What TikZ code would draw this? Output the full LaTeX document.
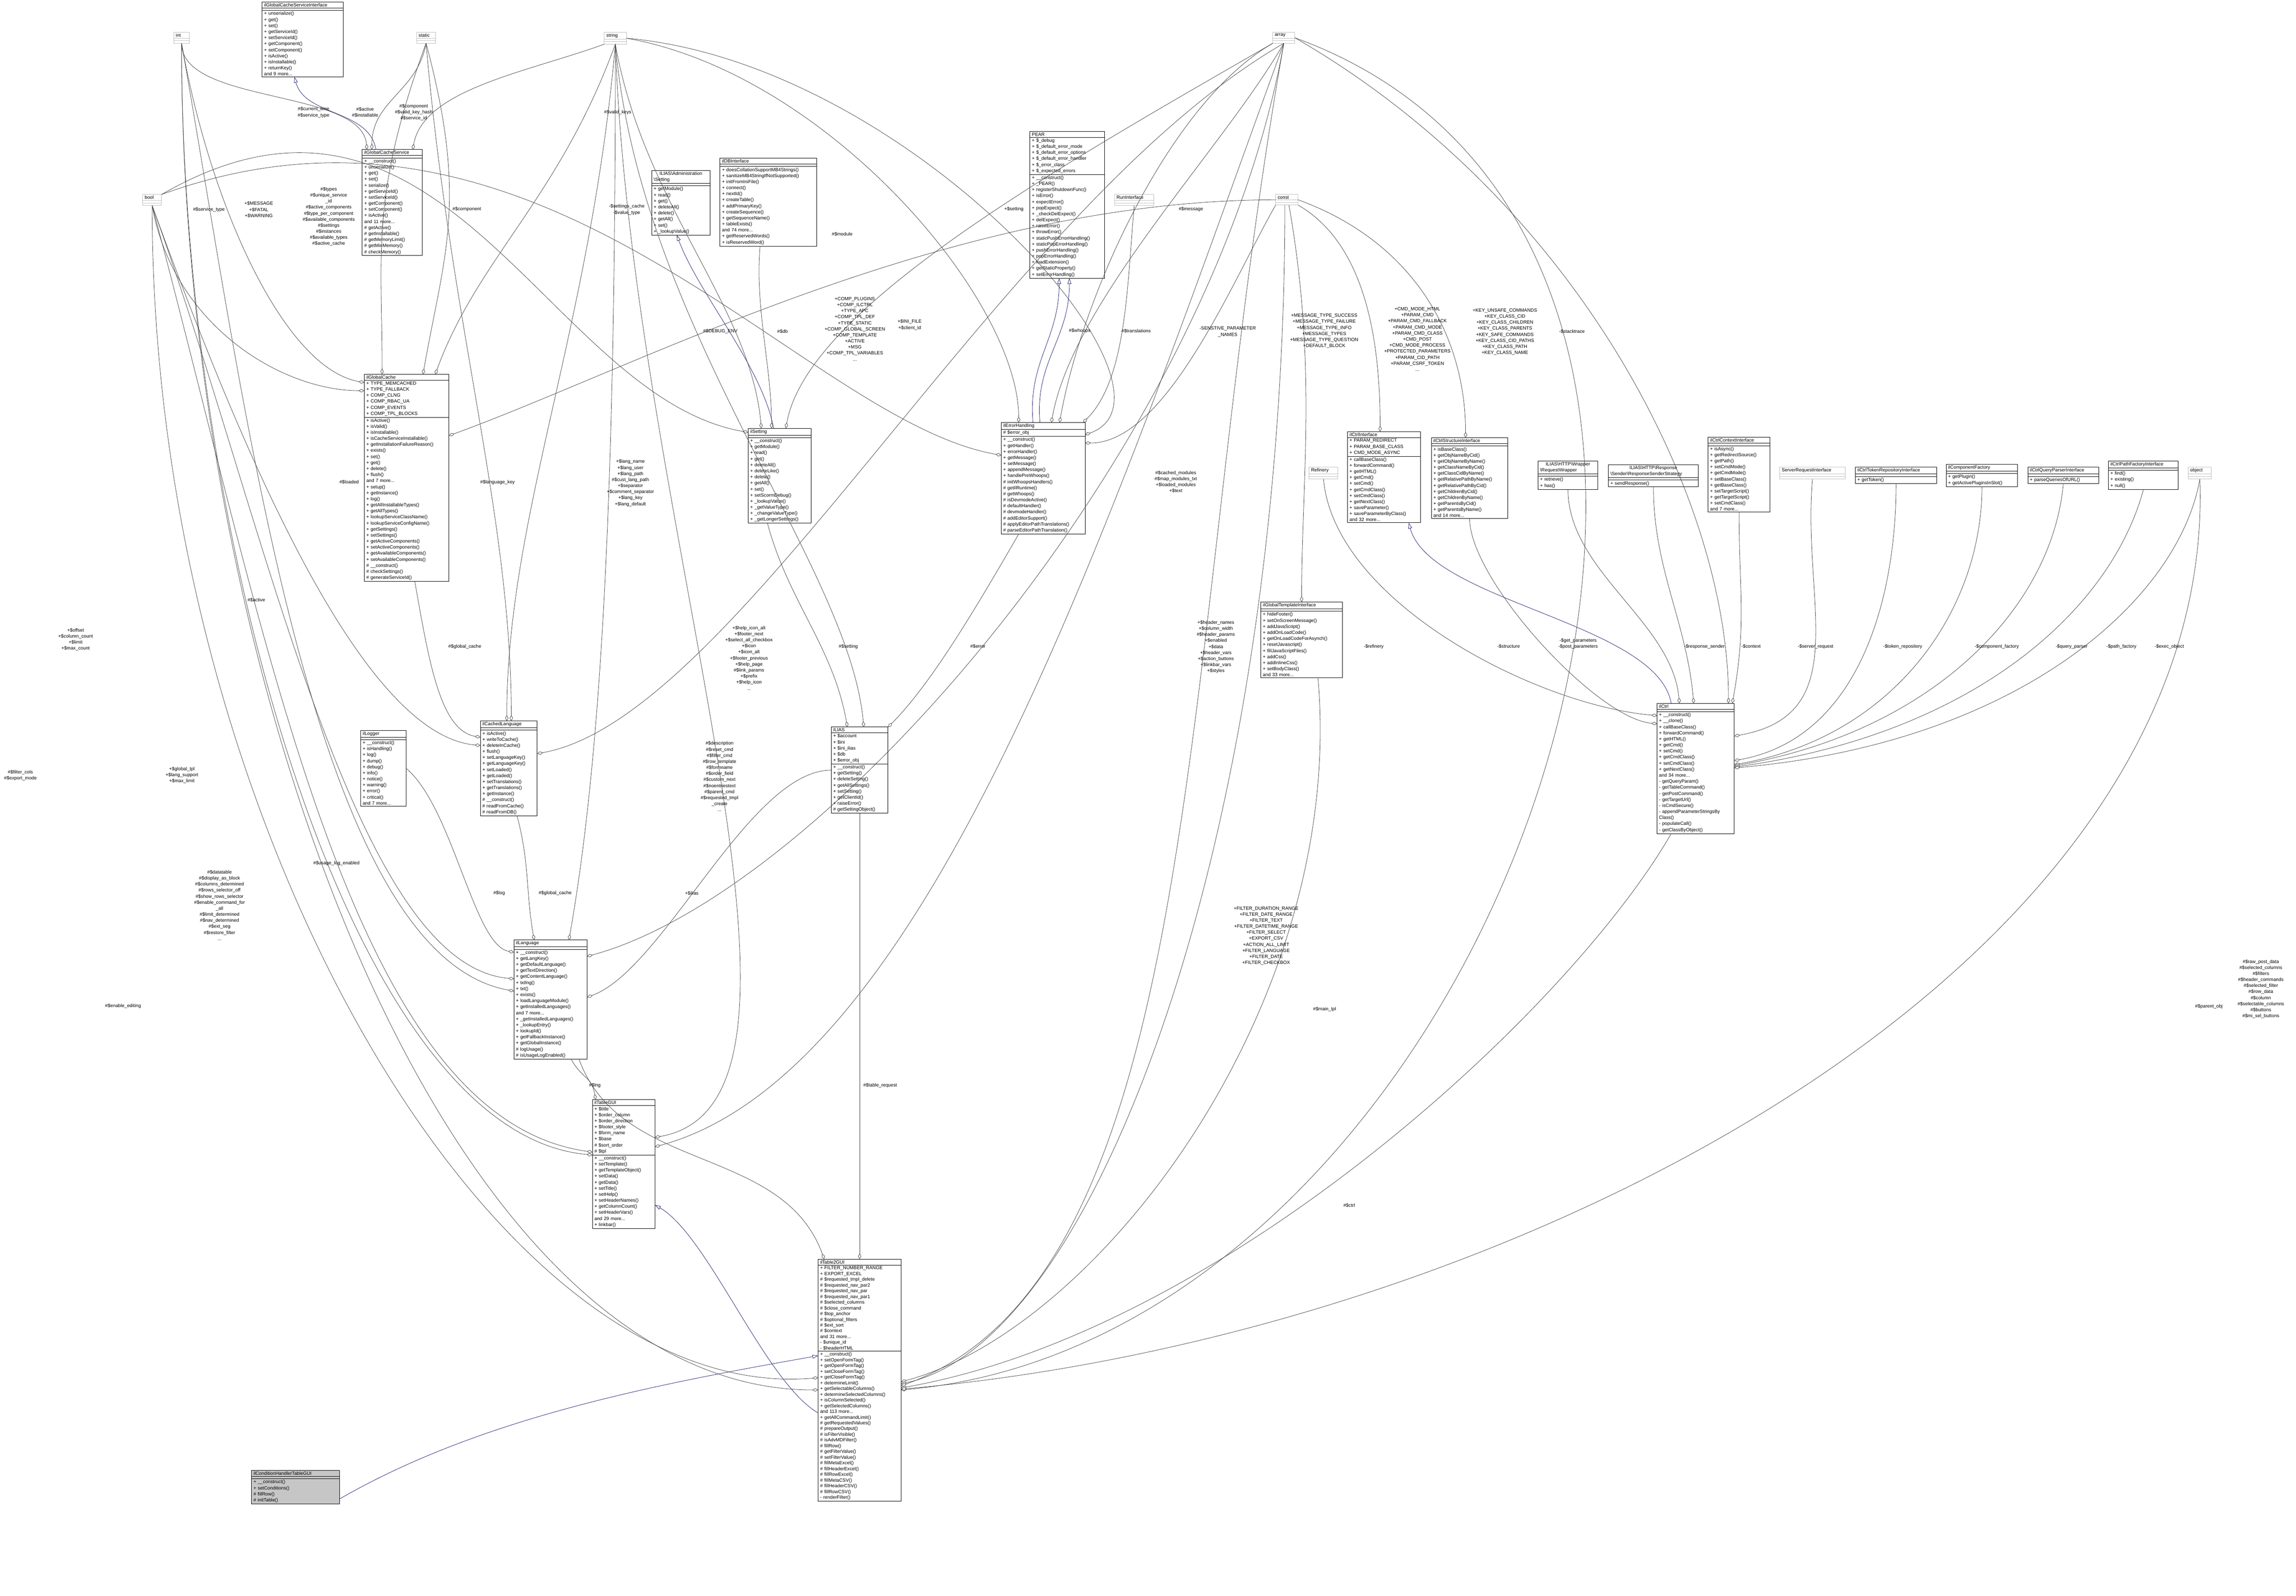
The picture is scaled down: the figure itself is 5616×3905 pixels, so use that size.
\documentclass[tikz,border=0pt]{standalone}
\usepackage{fontspec}
\setmainfont{Liberation Sans}
\usetikzlibrary{shapes.multipart,arrows.meta,calc}
\newfontfamily\clsfont{Liberation Sans}
\newcommand\clsf{\clsfont\fontsize{11.5}{14.8}\selectfont}
\definecolor{inh}{HTML}{191970}
\definecolor{edg}{HTML}{404040}
\catcode`\_=12
\tikzset{
 cls/.style={rectangle split, rectangle split parts=3, draw=black, line width=0.1pt, fill=white,
   text width=#1, inner xsep=5pt, inner ysep=3pt, anchor=north west, font=\clsf, align=left,
   rectangle split empty part height=18pt},
 ext/.style={cls=#1, draw=gray!50},
 agg/.style={draw=edg, line width=0.09pt, -{Diamond[open,length=1.4pt,width=0.8pt,fill=white]}},
 inhe/.style={draw=inh, line width=0.09pt, -{Triangle[open,length=1.4pt,width=0.9pt,fill=white]}},
 lab/.style={font=\clsf, align=center, inner sep=1pt}
}
\begin{document}
\begin{tikzpicture}[x=1pt,y=-1pt,scale=0.1,every node/.append style={transform shape}]
\useasboundingbox (0,0) rectangle (5616,3905);
\fill[white] (0,0) rectangle (5616,3905);
% ---------- external types
\node[ext=28] (int) at (425,79) {\centering int\nodepart{two}\nodepart{three}};
\node[ext=36] (static) at (1019,79) {\centering static\nodepart{two}\nodepart{three}};
\node[ext=44] (string) at (1478,79) {\centering string\nodepart{two}\nodepart{three}};
\node[ext=44] (array) at (3113,79) {\centering array\nodepart{two}\nodepart{three}};
\node[ext=36] (bool) at (349,476) {\centering bool\nodepart{two}\nodepart{three}};
\node[ext=45] (const) at (3120,476) {\centering const\nodepart{two}\nodepart{three}};
\node[ext=86] (runi) at (2726,476) {\centering RunInterface\nodepart{two}\nodepart{three}};
\node[ext=60] (refinery) at (3202,1143) {\centering Refinery\nodepart{two}\nodepart{three}};
\node[ext=150] (sri) at (4353,1143) {\centering ServerRequestInterface\nodepart{two}\nodepart{three}};
\node[ext=47] (obj) at (5352,1143) {\centering object\nodepart{two}\nodepart{three}};
% ---------- classes
\node[cls=188] (ifcsi) at (641,5) {\centering ilGlobalCacheServiceInterface\nodepart{two}\nodepart{three}+ unserialize()\\+ get()\\+ set()\\+ getServiceId()\\+ setServiceId()\\+ getComponent()\\+ setComponent()\\+ isActive()\\+ isInstallable()\\+ returnKey()\\and 9 more...};
\node[cls=137] (gcs) at (886,366) {\centering ilGlobalCacheService\nodepart{two}\nodepart{three}+ __construct()\\+ unserialize()\\+ get()\\+ set()\\+ serialize()\\+ getServiceId()\\+ setServiceId()\\+ getComponent()\\+ setComponent()\\+ isActive()\\and 11 more...\\\# getActive()\\\# getInstallable()\\\# getMemoryLimit()\\\# getMinMemory()\\\# checkMemory()};
\node[cls=133] (admset) at (1594,417) {\centering ILIAS\textbackslash Administration\\\textbackslash Setting\nodepart{two}\nodepart{three}+ getModule()\\+ read()\\+ get()\\+ deleteAll()\\+ delete()\\+ getAll()\\+ set()\\+ _lookupValue()};
\node[cls=226] (dbi) at (1761,387) {\centering ilDBInterface\nodepart{two}\nodepart{three}+ doesCollationSupportMB4Strings()\\+ sanitizeMB4StringIfNotSupported()\\+ initFromIniFile()\\+ connect()\\+ nextId()\\+ createTable()\\+ addPrimaryKey()\\+ createSequence()\\+ getSequenceName()\\+ tableExists()\\and 74 more...\\+ getReservedWords()\\+ isReservedWord()};
\node[cls=173] (pear) at (2519,322) {\centering PEAR\nodepart{two}+ \$_debug\\+ \$_default_error_mode\\+ \$_default_error_options\\+ \$_default_error_handler\\+ \$_error_class\\+ \$_expected_errors\nodepart{three}+ __construct()\\+ _PEAR()\\+ registerShutdownFunc()\\+ isError()\\+ expectError()\\+ popExpect()\\+ _checkDelExpect()\\+ delExpect()\\+ raiseError()\\+ throwError()\\+ staticPushErrorHandling()\\+ staticPopErrorHandling()\\+ pushErrorHandling()\\+ popErrorHandling()\\+ loadExtension()\\+ getStaticProperty()\\+ setErrorHandling()};
\node[cls=197] (gc) at (891,916) {\centering ilGlobalCache\nodepart{two}+ TYPE_MEMCACHED\\+ TYPE_FALLBACK\\+ COMP_CLNG\\+ COMP_RBAC_UA\\+ COMP_EVENTS\\+ COMP_TPL_BLOCKS\nodepart{three}+ isActive()\\+ isValid()\\+ isInstallable()\\+ isCacheServiceInstallable()\\+ getInstallationFailureReason()\\+ exists()\\+ set()\\+ get()\\+ delete()\\+ flush()\\and 7 more...\\+ setup()\\+ getInstance()\\+ log()\\+ getAllInstallableTypes()\\+ getAllTypes()\\+ lookupServiceClassName()\\+ lookupServiceConfigName()\\+ getSettings()\\+ setSettings()\\+ getActiveComponents()\\+ setActiveComponents()\\+ getAvailableComponents()\\+ setAvailableComponents()\\\# __construct()\\\# checkSettings()\\\# generateServiceId()};
\node[cls=144] (set) at (1830,1048) {\centering ilSetting\nodepart{two}\nodepart{three}+ __construct()\\+ getModule()\\+ read()\\+ get()\\+ deleteAll()\\+ deleteLike()\\+ delete()\\+ getAll()\\+ set()\\+ setScormDebug()\\+ _lookupValue()\\+ _getValueType()\\+ _changeValueType()\\+ _getLongerSettings()};
\node[cls=195] (eh) at (2449,1034) {\centering ilErrorHandling\nodepart{two}\# \$error_obj\nodepart{three}+ __construct()\\+ getHandler()\\+ errorHandler()\\+ getMessage()\\+ setMessage()\\+ appendMessage()\\+ handlePreWhoops()\\\# initWhoopsHandlers()\\\# getIlRuntime()\\\# getWhoops()\\\# isDevmodeActive()\\\# defaultHandler()\\\# devmodeHandler()\\\# addEditorSupport()\\\# applyEditorPathTranslations()\\\# parseEditorPathTranslation()};
\node[cls=129] (ilias) at (2033,1779) {\centering ILIAS\nodepart{two}+ \$account\\+ \$ini\\+ \$ini_ilias\\+ \$db\\+ \$error_obj\nodepart{three}+ __construct()\\+ getSetting()\\+ deleteSetting()\\+ getAllSettings()\\+ setSetting()\\+ getClientId()\\+ raiseError()\\\# getSettingObject()};
\node[cls=129] (cl) at (1175,1764) {\centering ilCachedLanguage\nodepart{two}\nodepart{three}+ isActive()\\+ writeToCache()\\+ deleteInCache()\\+ flush()\\+ setLanguageKey()\\+ getLanguageKey()\\+ setLoaded()\\+ getLoaded()\\+ setTranslations()\\+ getTranslations()\\+ getInstance()\\\# __construct()\\\# readFromCache()\\\# readFromDB()};
\node[cls=101] (logger) at (882,1787) {\centering ilLogger\nodepart{two}\nodepart{three}+ __construct()\\+ isHandling()\\+ log()\\+ dump()\\+ debug()\\+ info()\\+ notice()\\+ warning()\\+ error()\\+ critical()\\and 7 more...};
\node[cls=169] (lang) at (1257,2300) {\centering ilLanguage\nodepart{two}\nodepart{three}+ __construct()\\+ getLangKey()\\+ getDefaultLanguage()\\+ getTextDirection()\\+ getContentLanguage()\\+ txtlng()\\+ txt()\\+ exists()\\+ loadLanguageModule()\\+ getInstalledLanguages()\\and 7 more...\\+ _getInstalledLanguages()\\+ _lookupEntry()\\+ lookupId()\\+ getFallbackInstance()\\+ getGlobalInstance()\\\# logUsage()\\\# isUsageLogEnabled()};
\node[cls=143] (tgui) at (1449,2691) {\centering ilTableGUI\nodepart{two}+ \$title\\+ \$order_column\\+ \$order_direction\\+ \$footer_style\\+ \$form_name\\+ \$base\\\# \$sort_order\\\# \$tpl\nodepart{three}+ __construct()\\+ setTemplate()\\+ getTemplateObject()\\+ setData()\\+ getData()\\+ setTitle()\\+ setHelp()\\+ setHeaderNames()\\+ getColumnCount()\\+ setHeaderVars()\\and 29 more...\\+ linkbar()};
\node[cls=193, font=\clsfont\fontsize{11.5}{14}\selectfont] (t2gui) at (2001,3081) {\centering ilTable2GUI\nodepart{two}+ FILTER_NUMBER_RANGE\\+ EXPORT_EXCEL\\\# \$requested_tmpl_delete\\\# \$requested_nav_par2\\\# \$requested_nav_par\\\# \$requested_nav_par1\\\# \$selected_columns\\\# \$close_command\\\# \$top_anchor\\\# \$optional_filters\\\# \$ext_sort\\\# \$context\\and 31 more...\\- \$unique_id\\- \$headerHTML\nodepart{three}+ __construct()\\+ setOpenFormTag()\\+ getOpenFormTag()\\+ setCloseFormTag()\\+ getCloseFormTag()\\+ determineLimit()\\+ getSelectableColumns()\\+ determineSelectedColumns()\\+ isColumnSelected()\\+ getSelectedColumns()\\and 113 more...\\+ getAllCommandLimit()\\\# getRequestedValues()\\\# prepareOutput()\\\# isFilterVisible()\\\# isAdvMDFilter()\\\# fillRow()\\\# getFilterValue()\\\# setFilterValue()\\\# fillMetaExcel()\\\# fillHeaderExcel()\\\# fillRowExcel()\\\# fillMetaCSV()\\\# fillHeaderCSV()\\\# fillRowCSV()\\- renderFilter()};
\node[cls=189] (gti) at (3084,1473) {\centering ilGlobalTemplateInterface\nodepart{two}\nodepart{three}+ hideFooter()\\+ setOnScreenMessage()\\+ addJavaScript()\\+ addOnLoadCode()\\+ getOnLoadCodeForAsynch()\\+ resetJavascript()\\+ fillJavaScriptFiles()\\+ addCss()\\+ addInlineCss()\\+ setBodyClass()\\and 33 more...};
\node[cls=169] (ctrli) at (3296,1056) {\centering ilCtrlInterface\nodepart{two}+ PARAM_REDIRECT\\+ PARAM_BASE_CLASS\\+ CMD_MODE_ASYNC\nodepart{three}+ callBaseClass()\\+ forwardCommand()\\+ getHTML()\\+ getCmd()\\+ setCmd()\\+ getCmdClass()\\+ setCmdClass()\\+ getNextClass()\\+ saveParameter()\\+ saveParameterByClass()\\and 32 more...};
\node[cls=177] (ctrls) at (3501,1071) {\centering ilCtrlStructureInterface\nodepart{two}\nodepart{three}+ isBaseClass()\\+ getObjNameByCid()\\+ getObjNameByName()\\+ getClassNameByCid()\\+ getClassCidByName()\\+ getRelativePathByName()\\+ getRelativePathByCid()\\+ getChildrenByCid()\\+ getChildrenByName()\\+ getParentsByCid()\\+ getParentsByName()\\and 14 more...};
\node[cls=136] (reqw) at (3762,1128) {\centering ILIAS\textbackslash HTTP\textbackslash Wrapper\\\textbackslash RequestWrapper\nodepart{two}\nodepart{three}+ retrieve()\\+ has()};
\node[cls=210] (resp) at (3934,1137) {\centering ILIAS\textbackslash HTTP\textbackslash Response\\\textbackslash Sender\textbackslash ResponseSenderStrategy\nodepart{two}\nodepart{three}+ sendResponse()};
\node[cls=141] (ctrlc) at (4178,1070) {\centering ilCtrlContextInterface\nodepart{two}\nodepart{three}+ isAsync()\\+ getRedirectSource()\\+ getPath()\\+ setCmdMode()\\+ getCmdMode()\\+ setBaseClass()\\+ getBaseClass()\\+ setTargetScript()\\+ getTargetScript()\\+ setCmdClass()\\and 7 more...};
\node[cls=189] (tok) at (4538,1143) {\centering ilCtrlTokenRepositoryInterface\nodepart{two}\nodepart{three}+ getToken()};
\node[cls=165] (compf) at (4760,1136) {\centering ilComponentFactory\nodepart{two}\nodepart{three}+ getPlugin()\\+ getActivePluginsInSlot()};
\node[cls=163] (qp) at (4960,1143) {\centering ilCtrlQueryParserInterface\nodepart{two}\nodepart{three}+ parseQueriesOfURL()};
\node[cls=161] (pf) at (5157,1128) {\centering ilCtrlPathFactoryInterface\nodepart{two}\nodepart{three}+ find()\\+ existing()\\+ null()};
\node[cls=179] (ctrl) at (4053,1721) {\centering ilCtrl\nodepart{two}\nodepart{three}+ __construct()\\+ __clone()\\+ callBaseClass()\\+ forwardCommand()\\+ getHTML()\\+ getCmd()\\+ setCmd()\\+ getCmdClass()\\+ setCmdClass()\\+ getNextClass()\\and 34 more...\\- getQueryParam()\\- getTableCommand()\\- getPostCommand()\\- getTargetUrl()\\- isCmdSecure()\\- appendParameterStringsBy\\Class()\\- populateCall()\\- getClassByObject()};
\node[cls=205, fill=gray!45] (cond) at (615,3598) {\centering ilConditionHandlerTableGUI\nodepart{two}\nodepart{three}+ __construct()\\+ setConditions()\\\# fillRow()\\\# initTable()};
% ---------- inheritance
\draw[inhe] ($(gcs.north)+(-40,0)$) .. controls +(-100:100) and +(75:100) .. ($(ifcsi.south)+(-20,0)$);
\draw[inhe] ($(set.north)+(-15,0)$) .. controls +(-100:150) and +(70:150) .. ($(admset.south)+(-10,0)$);
\draw[inhe] ($(eh.north)+(-25,0)$) .. controls +(-95:150) and +(90:150) .. ($(pear.south)+(-20,0)$);
\draw[inhe] ($(eh.north)+(-8,0)$) .. controls +(-95:150) and +(90:150) .. ($(pear.south)+(5,0)$);
\draw[inhe] ($(t2gui.west)+(0,80)$) .. controls +(-150:150) and +(30:150) .. ($(tgui.east)+(0,100)$);
\draw[inhe] ($(cond.north east)+(0,70)$) .. controls +(-30:400) and +(-190:400) .. ($(t2gui.west)+(0,-60)$);
\draw[inhe] ($(ctrl.north)+(-60,0)$) .. controls +(-100:200) and +(75:200) .. ($(ctrli.south)+(60,0)$);
% ---------- aggregations
\draw[agg] (int.south) .. controls +(90:150) and +(-95:150) .. ($(gcs.north)+(-62,0)$);
\draw[agg] (static.south) .. controls +(100:120) and +(-90:120) .. ($(gcs.north)+(-50,0)$);
\draw[agg] (string.south west) .. controls +(-200:200) and +(-80:150) .. ($(gcs.north)+(50,0)$);
\draw[agg] (static.south) .. controls +(110:400) and +(-90:300) .. ($(gc.north)+(-60,0)$);
\draw[agg] (int.south) .. controls +(80:400) and +(-170:200) .. ($(gc.north west)+(0,20)$);
\draw[agg] (static.south) .. controls +(75:400) and +(-80:300) .. ($(gc.north)+(40,0)$);
\draw[agg] (string.south) .. controls +(110:400) and +(-70:300) .. ($(gc.north)+(70,0)$);
\draw[agg] (bool.south) .. controls +(80:300) and +(180:200) .. ($(gc.north west)+(0,40)$);
\draw[agg] (const.west) .. controls +(180:800) and +(-20:500) .. ($(gc.north east)+(0,150)$);
\draw[agg] ($(dbi.south)+(-20,0)$) .. controls +(95:150) and +(-90:150) .. ($(set.north)+(-20,0)$);
\draw[agg] (array.south west) .. controls +(-210:600) and +(-80:300) .. ($(set.north)+(15,0)$);
\draw[agg] (string.south) .. controls +(80:400) and +(-95:300) .. ($(set.north)+(-45,0)$);
\draw[agg] (bool.north east) .. controls +(-30:800) and +(-170:500) .. ($(set.north west)+(0,10)$);
\draw[agg] (string.east) .. controls +(10:500) and +(-90:300) .. ($(eh.north)+(-60,0)$);
\draw[agg] (array.south) .. controls +(120:300) and +(-80:300) .. ($(eh.north)+(20,0)$);
\draw[agg] (array.south west) .. controls +(150:300) and +(-80:300) .. ($(eh.north)+(40,0)$);
\draw[agg] (string.east) .. controls +(5:700) and +(-20:300) .. ($(eh.north east)+(0,30)$);
\draw[agg] (const.south west) .. controls +(120:200) and +(0:200) .. ($(eh.north east)+(0,50)$);
\draw[agg] (bool.north east) .. controls +(-20:1000) and +(-170:500) .. ($(eh.north west)+(0,80)$);
\draw[agg] (runi.south) .. controls +(95:200) and +(-45:150) .. ($(eh.north east)+(-5,0)$);
\draw[agg] ($(set.south)+(-30,0)$) .. controls +(75:200) and +(-100:200) .. ($(ilias.north)+(-30,0)$);
\draw[agg] ($(eh.south)+(-60,0)$) .. controls +(120:200) and +(-45:150) .. (ilias.north east);
\draw[agg] (string.south) .. controls +(85:700) and +(-95:400) .. ($(ilias.north)+(10,0)$);
\draw[agg] ($(gc.south)+(20,0)$) .. controls +(80:200) and +(-170:100) .. ($(cl.north west)+(0,40)$);
\draw[agg] (string.south) .. controls +(95:700) and +(-90:500) .. ($(cl.north)+(-5,0)$);
\draw[agg] (static.south) .. controls +(85:700) and +(-90:500) .. ($(cl.north)+(6,0)$);
\draw[agg] (bool.south) .. controls +(70:600) and +(-175:300) .. ($(cl.north west)+(0,60)$);
\draw[agg] (array.south) .. controls +(150:800) and +(-10:500) .. ($(cl.north east)+(0,80)$);
\draw[agg] ($(cl.south)+(20,0)$) .. controls +(75:120) and +(-100:120) .. ($(lang.north)+(-40,0)$);
\draw[agg] (logger.east) .. controls +(40:150) and +(-170:100) .. ($(lang.north west)+(0,30)$);
\draw[agg] (string.south) .. controls +(90:1000) and +(-80:500) .. ($(lang.north)+(45,0)$);
\draw[agg] (array.south) .. controls +(100:1000) and +(-15:600) .. ($(lang.north east)+(0,40)$);
\draw[agg] (bool.south) .. controls +(70:800) and +(-175:400) .. ($(lang.north west)+(0,95)$);
\draw[agg] (ilias.west) .. controls +(180:200) and +(-20:200) .. ($(lang.north east)+(0,140)$);
\draw[agg] (int.south) .. controls +(80:900) and +(-170:500) .. ($(lang.north west)+(0,125)$);
\draw[agg] ($(lang.south)+(50,0)$) .. controls +(60:60) and +(-100:60) .. ($(tgui.north west)+(8,0)$);
\draw[agg] (int.south) .. controls +(90:1200) and +(-175:600) .. ($(tgui.north west)+(0,135)$);
\draw[agg] (bool.south) .. controls +(75:1100) and +(-172:600) .. ($(tgui.north west)+(0,128)$);
\draw[agg] (string.south) .. controls +(88:1200) and +(-10:500) .. ($(tgui.north east)+(0,92)$);
\draw[agg] (array.south) .. controls +(110:1200) and +(-15:700) .. ($(tgui.north east)+(0,115)$);
\draw[agg] (ilias.south) -- (ilias.south |- t2gui.north);
\draw[agg] ($(lang.south east)+(-20,0)$) .. controls +(70:300) and +(-110:300) .. ($(t2gui.north west)+(15,0)$);
\draw[agg] (bool.south) .. controls +(90:1500) and +(-185:800) .. ($(t2gui.north west)+(0,290)$);
\draw[agg] (int.south) .. controls +(90:1600) and +(-180:900) .. ($(t2gui.north west)+(0,320)$);
\draw[agg] ($(gti.south)+(40,0)$) .. controls +(85:800) and +(-15:500) .. ($(t2gui.north east)+(0,300)$);
\draw[agg] ($(ctrl.south)+(-60,0)$) .. controls +(120:500) and +(-10:800) .. ($(t2gui.north east)+(0,315)$);
\draw[agg] ($(const.south)+(-5,0)$) .. controls +(90:1500) and +(-12:500) .. ($(t2gui.north east)+(0,305)$);
\draw[agg] (array.east) .. controls +(20:1500) and +(-5:1500) .. ($(t2gui.north east)+(0,320)$);
\draw[agg] (array.south) .. controls +(100:1500) and +(-20:800) .. ($(t2gui.north east)+(0,310)$);
\draw[agg] (obj.south) .. controls +(88:1200) and +(-5:1500) .. ($(t2gui.north east)+(0,318)$);
\draw[agg] ($(const.south)+(5,0)$) .. controls +(80:400) and +(-90:300) .. (gti.north);
\draw[agg] (const.south east) .. controls +(30:200) and +(-90:200) .. ($(ctrli.north)+(-10,0)$);
\draw[agg] (const.east) .. controls +(20:300) and +(-90:250) .. ($(ctrls.north)+(-10,0)$);
% ilCtrl members
\draw[agg] (array.east) .. controls +(30:800) and +(-90:500) .. ($(ctrl.north)+(80,0)$);
\draw[agg] (refinery.south) .. controls +(85:300) and +(-175:300) .. ($(ctrl.north west)+(0,30)$);
\draw[agg] (ctrls.south) .. controls +(90:150) and +(-175:150) .. ($(ctrl.north west)+(0,50)$);
\draw[agg] (reqw.south) .. controls +(90:200) and +(-95:200) .. ($(ctrl.north)+(-40,0)$);
\draw[agg] (resp.south) .. controls +(90:200) and +(-95:200) .. ($(ctrl.north)+(-5,0)$);
\draw[agg] (ctrlc.south) .. controls +(90:200) and +(-80:200) .. ($(ctrl.north east)+(-5,0)$);
\draw[agg] (sri.south) .. controls +(95:300) and +(-10:300) .. ($(ctrl.north east)+(0,80)$);
\draw[agg] (tok.south) .. controls +(90:300) and +(-10:300) .. ($(ctrl.north east)+(0,140)$);
\draw[agg] (compf.south) .. controls +(90:300) and +(-10:400) .. ($(ctrl.north east)+(0,150)$);
\draw[agg] (qp.south) .. controls +(95:300) and +(-10:500) .. ($(ctrl.north east)+(0,153)$);
\draw[agg] (pf.south) .. controls +(105:300) and +(-8:600) .. ($(ctrl.north east)+(0,156)$);
\draw[agg] (obj.south) .. controls +(100:300) and +(-5:700) .. ($(ctrl.north east)+(0,158)$);
% ---------- labels
\node[lab] (l1) at (767,275) {\#\$current_time\\\#\$service_type};
\node[lab] (l2) at (893,275) {\#\$active\\\#\$installable};
\node[lab] (l3) at (1012,275) {\#\$component\\\#\$valid_key_hash\\\#\$service_id};
\node[lab] (l4) at (1511,275) {\#\$valid_keys};
\node[lab] (l5) at (804,530) {\#\$types\\\#\$unique_service\\_id\\\#\$active_components\\\#\$type_per_component\\\#\$available_components\\\#\$settings\\\#\$instances\\\#\$available_types\\\#\$active_cache};
\node[lab] (l6) at (633,513) {+\$MESSAGE\\+\$FATAL\\+\$WARNING};
\node[lab] (l6b) at (511,513) {\#\$service_type};
\node[lab] (l7) at (1142,512) {\#\$component};
\node[lab] (l8) at (1533,513) {-\$settings_cache\\-\$value_type};
\node[lab] (l9) at (2480,512) {+\$setting};
\node[lab] (l10) at (2913,512) {\#\$message};
\node[lab] (l11) at (2641,810) {\#\$whoops};
\node[lab] (l12) at (2779,810) {\#\$translations};
\node[lab] (l13) at (3003,812) {-SENSTIVE_PARAMETER\\_NAMES};
\node[lab] (l14) at (3239,810) {+MESSAGE_TYPE_SUCCESS\\+MESSAGE_TYPE_FAILURE\\+MESSAGE_TYPE_INFO\\+MESSAGE_TYPES\\+MESSAGE_TYPE_QUESTION\\+DEFAULT_BLOCK};
\node[lab] (l15) at (3467,830) {+CMD_MODE_HTML\\+PARAM_CMD\\+PARAM_CMD_FALLBACK\\+PARAM_CMD_MODE\\+PARAM_CMD_CLASS\\+CMD_POST\\+CMD_MODE_PROCESS\\+PROTECTED_PARAMETERS\\+PARAM_CID_PATH\\+PARAM_CSRF_TOKEN\\...};
\node[lab] (l16) at (3681,812) {+KEY_UNSAFE_COMMANDS\\+KEY_CLASS_CID\\+KEY_CLASS_CHILDREN\\+KEY_CLASS_PARENTS\\+KEY_SAFE_COMMANDS\\+KEY_CLASS_CID_PATHS\\+KEY_CLASS_PATH\\+KEY_CLASS_NAME};
\node[lab] (l17) at (3845,811) {-\$stacktrace};
\node[lab] (l18) at (2091,805) {+COMP_PLUGINS\\+COMP_ILCTRL\\+TYPE_APC\\+COMP_TPL_DEF\\+TYPE_STATIC\\+COMP_GLOBAL_SCREEN\\+COMP_TEMPLATE\\+ACTIVE\\+MSG\\+COMP_TPL_VARIABLES\\...};
\node[lab] (l19) at (1762,811) {\#\$DEBUG_ENV};
\node[lab] (l20) at (1914,811) {\#\$db};
\node[lab] (l21) at (2225,795) {+\$INI_FILE\\+\$client_id};
\node[lab] (l22) at (2060,573) {\#\$module};
\node[lab] (l23) at (854,1180) {\#\$loaded};
\node[lab] (l24) at (627,1468) {\#\$active};
\node[lab] (l25) at (1217,1180) {\#\$language_key};
\node[lab] (l26) at (1542,1182) {+\$lang_name\\+\$lang_user\\+\$lang_path\\\#\$cust_lang_path\\+\$separator\\+\$comment_separator\\+\$lang_key\\+\$lang_default};
\node[lab] (l27) at (1137,1582) {\#\$global_cache};
\node[lab] (l28) at (1832,1610) {+\$help_icon_alt\\+\$footer_next\\+\$select_all_checkbox\\+\$icon\\+\$icon_alt\\+\$footer_previous\\+\$help_page\\\#\$link_params\\+\$prefix\\+\$help_icon\\...};
\node[lab] (l29) at (2075,1582) {\#\$setting};
\node[lab] (l30) at (2392,1582) {\#\$error};
\node[lab] (l31) at (2876,1179) {\#\$cached_modules\\\#\$map_modules_txt\\+\$loaded_modules\\+\$text};
\node[lab] (l32) at (2974,1583) {+\$header_names\\+\$column_width\\\#\$header_params\\+\$enabled\\+\$data\\+\$header_vars\\+\$action_buttons\\+\$linkbar_vars\\+\$styles};
\node[lab] (l33) at (1760,1900) {\#\$description\\\#\$reset_cmd\\\#\$filter_cmd\\\#\$row_template\\\#\$formname\\\#\$order_field\\\#\$custom_next\\\#\$noentriestext\\\#\$parent_cmd\\\#\$requested_tmpl\\_create\\...};
\node[lab] (l34) at (1221,2186) {\#\$log};
\node[lab] (l35) at (1358,2186) {\#\$global_cache};
\node[lab] (l36) at (1692,2186) {+\$ilias};
\node[lab] (l37) at (1455,2656) {\#\$lng};
\node[lab] (l38) at (2153,2656) {\#\$table_request};
\node[lab] (l39) at (185,1565) {+\$offset\\+\$column_count\\+\$limit\\+\$max_count};
\node[lab] (l40) at (50,1897) {\#\$filter_cols\\\#\$export_mode};
\node[lab] (l41) at (445,1897) {+\$global_tpl\\+\$lang_support\\+\$max_limit};
\node[lab] (l42) at (537,2215) {\#\$datatable\\\#\$display_as_block\\\#\$columns_determined\\\#\$rows_selector_off\\\#\$show_rows_selector\\\#\$enable_command_for\\_all\\\#\$limit_determined\\\#\$nav_determined\\\#\$ext_seg\\\#\$restore_filter\\...};
\node[lab] (l43) at (301,2462) {\#\$enable_editing};
\node[lab] (l44) at (823,2112) {\#\$usage_log_enabled};
\node[lab] (l45) at (3097,2290) {+FILTER_DURATION_RANGE\\+FILTER_DATE_RANGE\\+FILTER_TEXT\\+FILTER_DATETIME_RANGE\\+FILTER_SELECT\\+EXPORT_CSV\\+ACTION_ALL_LIMIT\\+FILTER_LANGUAGE\\+FILTER_DATE\\+FILTER_CHECKBOX};
\node[lab] (l46) at (3240,2470) {\#\$main_tpl};
\node[lab] (l47) at (3300,2950) {\#\$ctrl};
\node[lab] (l48) at (5403,2463) {\#\$parent_obj};
\node[lab] (l49) at (5530,2420) {\#\$raw_post_data\\\#\$selected_columns\\\#\$filters\\\#\$header_commands\\\#\$selected_filter\\\#\$row_data\\\#\$column\\\#\$selectable_columns\\\#\$buttons\\\#\$mi_sel_buttons};
\node[lab] (l50) at (3360,1582) {-\$refinery};
\node[lab] (l51) at (3690,1582) {-\$structure};
\node[lab] (l52) at (3860,1575) {-\$get_parameters\\-\$post_parameters};
\node[lab] (l53) at (4169,1582) {-\$response_sender};
\node[lab] (l54) at (4283,1582) {-\$context};
\node[lab] (l55) at (4441,1582) {-\$server_request};
\node[lab] (l56) at (4654,1582) {-\$token_repository};
\node[lab] (l57) at (4884,1582) {-\$component_factory};
\node[lab] (l58) at (5067,1582) {-\$query_parser};
\node[lab] (l59) at (5189,1582) {-\$path_factory};
\node[lab] (l60) at (5306,1582) {-\$exec_object};
\end{tikzpicture}
\end{document}
